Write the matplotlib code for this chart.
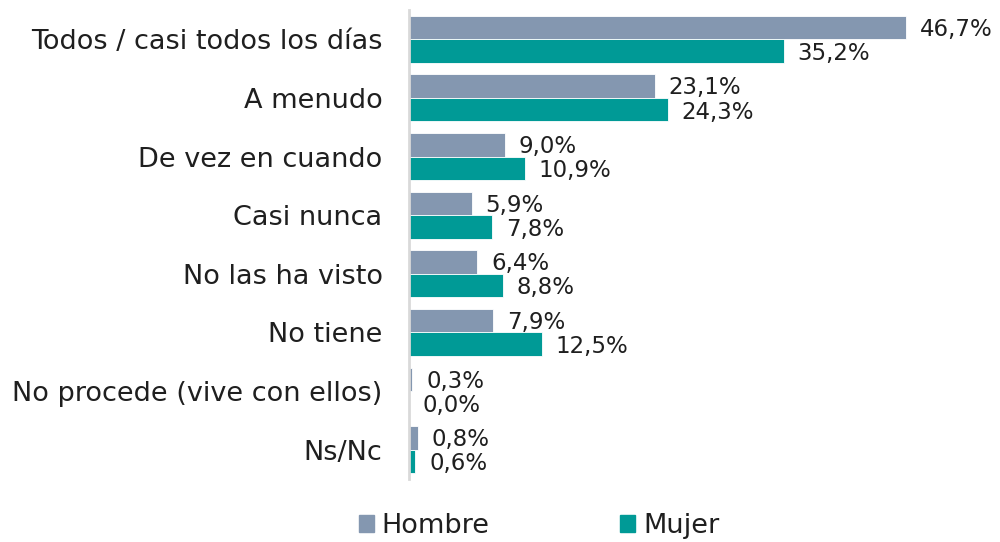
import matplotlib
matplotlib.use("Agg")
import matplotlib.pyplot as plt
from matplotlib.patches import Rectangle

categories = ["Todos / casi todos los días", "A menudo", "De vez en cuando", "Casi nunca",
              "No las ha visto", "No tiene", "No procede (vive con ellos)", "Ns/Nc"]
hombre = [46.7, 23.1, 9.0, 5.9, 6.4, 7.9, 0.3, 0.8]
mujer = [35.2, 24.3, 10.9, 7.8, 8.8, 12.5, 0.0, 0.6]
series_names = ["Hombre", "Mujer"]
colors = ["#8497B0", "#009A96"]

plt.rcParams['font.family'] = ['DejaVu Sans']

W, H = 1000, 542
fig = plt.figure(figsize=(W/100, H/100), dpi=100)
ax = fig.add_axes([409/W, 1-479/H, (995-409)/W, (479-10)/H])

n = len(categories)
ys = list(range(n))
bh = 0.4
ax.barh([y - bh/2 for y in ys], hombre, height=bh, color=colors[0], edgecolor='white', linewidth=0.6)
ax.barh([y + bh/2 for y in ys], mujer, height=bh, color=colors[1], edgecolor='white', linewidth=0.6)

xmax = (995-409)/((906-409)/46.7)
ax.set_xlim(0, xmax)
ax.set_ylim(n - 0.5, -0.5)

fs = 16.5
for y, h, m in zip(ys, hombre, mujer):
    ax.annotate(f"{h:.1f}%".replace('.', ','), (h, y - bh/2 + 0.03), xytext=(10, 0), textcoords='offset points',
                ha='left', va='center', fontsize=fs, color='#1f1f1f')
    ax.annotate(f"{m:.1f}%".replace('.', ','), (m, y + bh/2 + 0.04), xytext=(10, 0), textcoords='offset points',
                ha='left', va='center', fontsize=fs, color='#1f1f1f')

ax.set_yticks(ys)
ax.set_yticklabels(categories, fontsize=19.5, color='#1f1f1f')
ax.tick_params(axis='y', length=0, pad=19)
ax.set_xticks([])
for s in ['top', 'right', 'bottom']:
    ax.spines[s].set_visible(False)
ax.spines['left'].set_color('#D9D9D9')
ax.spines['left'].set_linewidth(2)

handles = [Rectangle((0, 0), 1, 1, color=c) for c in colors]
leg = fig.legend(handles, series_names, loc='center', bbox_to_anchor=(539/W, 1-526/H),
                 ncol=2, frameon=False, fontsize=19.5, handlelength=0.55, handleheight=0.55,
                 handletextpad=0.3, columnspacing=4.8, borderpad=0)
for t in leg.get_texts():
    t.set_color('#1f1f1f')

fig.savefig("out.png", dpi=100)
